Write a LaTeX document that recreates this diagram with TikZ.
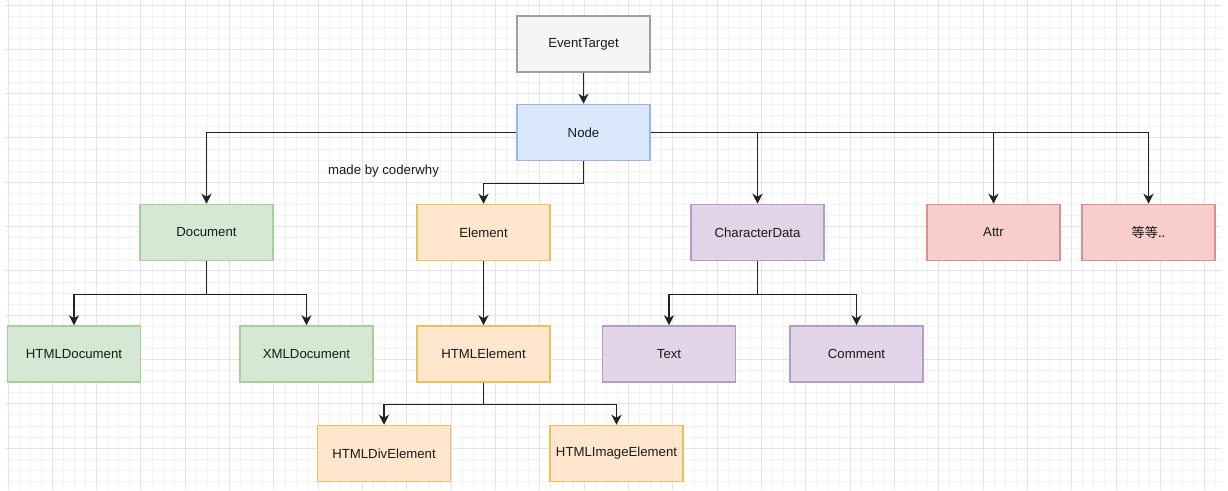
\documentclass[tikz,border=0pt]{standalone}
\usepackage{fontspec}
\setmainfont{Liberation Sans}
\newfontfamily\cjk{Noto Sans CJK SC}
\usetikzlibrary{arrows.meta}

\definecolor{grayfill}{HTML}{F5F5F5}
\definecolor{graydraw}{HTML}{A0A0A0}
\definecolor{bluefill}{HTML}{DAE8FC}
\definecolor{bluedraw}{HTML}{9DB6DC}
\definecolor{greenfill}{HTML}{D5E8D4}
\definecolor{greendraw}{HTML}{A7CF98}
\definecolor{orangefill}{HTML}{FFE6CC}
\definecolor{orangedraw}{HTML}{E9C05E}
\definecolor{purplefill}{HTML}{E1D5E7}
\definecolor{purpledraw}{HTML}{B59CC5}
\definecolor{redfill}{HTML}{F8CECC}
\definecolor{reddraw}{HTML}{DD8F8C}
\definecolor{minorline}{HTML}{F3F3F3}
\definecolor{majorline}{HTML}{E4E4E4}
\definecolor{textcol}{HTML}{1A1A1A}
\definecolor{linecol}{HTML}{222222}

\tikzset{
	treepicture/.style = {
		x = 1pt,
		y = -1pt,
		>={Stealth[length=10pt,width=10pt,inset=3pt]},
		arrow/.style = {
			draw = linecol,
			->,
			line width = 1.3pt,
		}
	},
	classnode/.style = {
		rectangle,
		draw,
		line width = 1.5pt,
		minimum width = 133pt,
		minimum height = 56pt,
		text = textcol,
		font = \fontsize{13.2}{15}\selectfont
	},
	base/.style = {
		fill = grayfill,
		draw = graydraw
	},
	core/.style = {
		fill = bluefill,
		draw = bluedraw
	},
	doc/.style = {
		fill = greenfill,
		draw = greendraw
	},
	elem/.style = {
		fill = orangefill,
		draw = orangedraw
	},
	chardata/.style = {
		fill = purplefill,
		draw = purpledraw
	},
	other/.style = {
		fill = redfill,
		draw = reddraw
	},
	minorgrid/.style = {
		draw = minorline,
		line width = 1pt
	},
	majorgrid/.style = {
		draw = majorline,
		line width = 1pt
	}
}

\begin{document}
\begin{tikzpicture}[treepicture]
	\useasboundingbox (0,0) rectangle (1228,490);
	\fill[white] (0,0) rectangle (1228,490);

	% grid
	\begin{scope}
		\clip (5,0) rectangle (1222,490);
		\foreach \i in {0,...,110}
			\draw[minorgrid] ({8+11.08*\i},0) -- ++(0,490);
		\foreach \i in {0,...,44}
			\draw[minorgrid] (5,{5+11.08*\i}) -- ++(1217,0);
		\foreach \i in {0,...,27}
			\draw[majorgrid] ({8+44.32*\i},0) -- ++(0,490);
		\foreach \i in {0,...,11}
			\draw[majorgrid] (5,{5+44.32*\i}) -- ++(1217,0);
	\end{scope}

	\node[classnode, base] (EventTarget) at (583.5,44) {EventTarget};
	\node[classnode, core] (Node) at (583.5,132.5) {Node};

	\node[classnode, doc] (Document) at (206.5,232.5) {Document};
	\node[classnode, elem] (Element) at (483.5,232.5) {Element};
	\node[classnode, chardata] (CharacterData) at (757.5,232.5) {CharacterData};
	\node[classnode, other] (Attr) at (993.5,232.5) {Attr};
	\node[classnode, other] (Etc) at (1148.5,232.5) {{\cjk 等等..}};

	\node[classnode, doc] (HTMLDocument) at (74,354) {HTMLDocument};
	\node[classnode, doc] (XMLDocument) at (306.5,354) {XMLDocument};
	\node[classnode, elem] (HTMLElement) at (483.5,354) {HTMLElement};
	\node[classnode, chardata] (Text) at (669,354) {Text};
	\node[classnode, chardata] (Comment) at (856.5,354) {Comment};

	\node[classnode, elem] (HTMLDivElement) at (384,453.5) {HTMLDivElement};
	\node[classnode, elem] (HTMLImageElement) at (616.5,453.5) {HTMLImageElement};

	\node[text = textcol, font = \fontsize{13.2}{15}\selectfont] (Credit) at (383.5,171.5) {made by coderwhy};

	\begin{scope}[every path/.style = arrow]
		\path (EventTarget) -- (Node);
		\path (Node.west) -| (Document.north);
		\path (Node.south) -- ++(0,22) -| (Element.north);
		\path (Node.east) -| (CharacterData.north);
		\path (Node.east) -| (Attr.north);
		\path (Node.east) -| (Etc.north);

		\path (Document.south) -- ++(0,33) -| (HTMLDocument.north);
		\path (Document.south) -- ++(0,33) -| (XMLDocument.north);
		\path (Element) -- (HTMLElement);
		\path (CharacterData.south) -- ++(0,33) -| (Text.north);
		\path (CharacterData.south) -- ++(0,33) -| (Comment.north);

		\path (HTMLElement.south) -- ++(0,22) -| (HTMLDivElement.north);
		\path (HTMLElement.south) -- ++(0,22) -| (HTMLImageElement.north);
	\end{scope}
\end{tikzpicture}
\end{document}
